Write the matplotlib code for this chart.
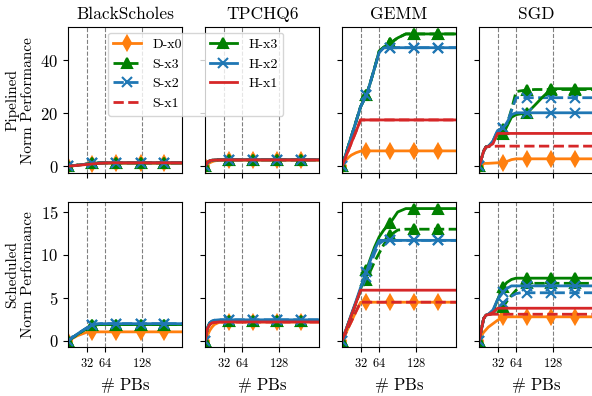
#!/usr/bin/env python3
# -*- coding: utf-8 -*-
import numpy as np
import matplotlib as mpl
mpl.use('Agg')
import matplotlib.pyplot as plt

plt.rcParams['font.family'] = 'serif'
plt.rcParams['font.serif'] = ['cmr10']
plt.rcParams['mathtext.fontset'] = 'cm'
plt.rcParams['axes.formatter.use_mathtext'] = True
plt.rcParams['axes.unicode_minus'] = False

# number of PBs sampled, markers drawn at a few of them
pbs = [0, 4, 8, 12, 16, 24, 32, 42, 48, 56, 64, 72, 83, 96, 110, 125, 166, 197]
mark_idx = [0, 7, 12, 15, 16]
pb_lines = [32, 64, 128]

benchmarks = ['BlackScholes', 'TPCHQ6', 'GEMM', 'SGD']
series = ['D-x0', 'S-x3', 'S-x2', 'S-x1', 'H-x3', 'H-x2', 'H-x1']
nan = np.nan

# pipelined (top row)
bs_pipe = {
    'D-x0': [0, .1, .2, .3, .4, .6, .8, 1.0, 1.05, 1.1, 1.1, 1.1, 1.1, 1.1, 1.1, 1.1, 1.1, 1.1],
    'S-x3': [0, .1, .2, .3, .4, .6, .8, 1.05, 1.15, 1.25, 1.3, 1.3, 1.3, 1.3, 1.3, 1.3, 1.3, 1.3],
    'S-x2': [0, .1, .2, .3, .4, .6, .8, 1.05, 1.15, 1.25, 1.3, 1.3, 1.3, 1.3, 1.3, 1.3, 1.3, 1.3],
    'S-x1': [0, .1, .2, .3, .4, .6, .8, 1.05, 1.15, 1.25, 1.3, 1.3, 1.3, 1.3, 1.3, 1.3, 1.3, 1.3],
    'H-x3': [0, .1, .2, .3, .4, .6, .8, 1.05, 1.15, 1.25, 1.3, 1.3, 1.3, 1.3, 1.3, 1.3, 1.3, 1.3],
    'H-x2': [0, .1, .2, .3, .4, .6, .8, 1.05, 1.15, 1.25, 1.3, 1.3, 1.3, 1.3, 1.3, 1.3, 1.3, 1.3],
    'H-x1': [0, .08, .16, .24, .32, .5, .65, .85, 1.0, 1.15, 1.25, 1.3, 1.3, 1.3, 1.3, 1.3, 1.3, 1.3],
}
tp_pipe = {
    'D-x0': [0, .7, 1.3, 1.7, 2.0, 2.25, 2.3, 2.3, 2.3, 2.3, 2.3, 2.3, 2.3, 2.3, 2.3, 2.3, 2.3, 2.3],
    'S-x3': [0, 1.4, 2.0, 2.25, 2.35, 2.45, 2.45, 2.45, 2.45, 2.45, 2.45, 2.45, 2.45, 2.45, 2.45, 2.45, 2.45, 2.45],
    'S-x2': [0, 1.4, 2.0, 2.25, 2.35, 2.45, 2.45, 2.45, 2.45, 2.45, 2.45, 2.45, 2.45, 2.45, 2.45, 2.45, 2.45, 2.45],
    'S-x1': [0, 1.5, 2.05, 2.25, 2.35, 2.4, 2.4, 2.4, 2.4, 2.4, 2.4, 2.4, 2.4, 2.4, 2.4, 2.4, 2.4, 2.4],
    'H-x3': [0, 1.4, 2.0, 2.25, 2.35, 2.45, 2.45, 2.45, 2.45, 2.45, 2.45, 2.45, 2.45, 2.45, 2.45, 2.45, 2.45, 2.45],
    'H-x2': [0, 1.4, 2.0, 2.25, 2.35, 2.45, 2.45, 2.45, 2.45, 2.45, 2.45, 2.45, 2.45, 2.45, 2.45, 2.45, 2.45, 2.45],
    'H-x1': [0, 1.5, 2.05, 2.25, 2.35, 2.4, 2.4, 2.4, 2.4, 2.4, 2.4, 2.4, 2.4, 2.4, 2.4, 2.4, 2.4, 2.4],
}
gm_pipe = {
    'D-x0': [0, 1.4, 2.6, 3.5, 4.2, 5.1, 5.7, 5.8, 5.8, 5.8, 5.8, 5.8, 5.8, 5.8, 5.8, 5.8, 5.8, 5.8],
    'S-x3': [0, 2.8, 5.6, 8.4, 11.2, 16.8, 22.5, 27.0, 31.0, 37.0, 43.5, 45.0, 46.5, 48.5, 50.0, 50.0, 50.0, 50.0],
    'S-x2': [0, 2.8, 5.6, 8.4, 11.2, 16.8, 22.5, 26.8, 31.0, 37.0, 43.0, 44.8, 44.8, 44.8, 44.8, 44.8, 44.8, 44.8],
    'S-x1': [0, 2.2, 4.4, 6.6, 8.8, 13.1, 17.5, 17.5, 17.5, 17.5, 17.5, 17.5, 17.5, 17.5, 17.5, 17.5, 17.5, 17.5],
    'H-x3': [0, 2.8, 5.6, 8.4, 11.2, 16.8, 22.5, 27.0, 31.0, 37.0, 43.5, 45.0, 46.5, 48.5, 50.0, 50.0, 50.0, 50.0],
    'H-x2': [0, 2.8, 5.6, 8.4, 11.2, 16.8, 22.5, 26.8, 31.0, 37.0, 43.0, 44.8, 44.8, 44.8, 44.8, 44.8, 44.8, 44.8],
    'H-x1': [0, 2.2, 4.4, 6.6, 8.8, 13.1, 17.5, 17.5, 17.5, 17.5, 17.5, 17.5, 17.5, 17.5, 17.5, 17.5, 17.5, 17.5],
}
sg_pipe = {
    'D-x0': [0, .6, 1.0, 1.1, 1.1, 1.2, 1.3, 1.4, 1.8, 2.5, 2.8, 2.8, 2.8, 2.8, 2.8, 2.8, 2.8, 2.8],
    'S-x3': [0, 2.8, 5.7, 7.3, 7.5, 9.3, 13.0, 14.0, 15.5, 21.5, 28.2, 28.5, 28.8, 29.0, 29.0, 29.0, 29.0, 29.0],
    'S-x2': [0, 2.8, 5.7, 7.3, 7.5, 9.5, 13.5, 14.5, 16.0, 21.0, 25.9, 25.9, 25.9, 25.9, 25.9, 25.9, 25.9, 25.9],
    'S-x1': [0, 2.8, 5.7, 7.3, 7.4, 7.5, 7.6, 7.6, 7.6, 7.6, 7.6, 7.6, 7.6, 7.6, 7.6, 7.6, 7.6, 7.6],
    'H-x3': [0, 2.8, 5.7, 7.3, 7.5, 9.3, 12.0, 12.3, 15.0, 18.5, 19.5, 19.8, 20.1, 23.0, 26.2, 29.3, 29.3, 29.3],
    'H-x2': [0, 2.8, 5.7, 7.3, 7.5, 9.5, 13.5, 14.5, 16.5, 19.5, 20.2, 20.2, 20.2, 20.2, 20.2, 20.2, 20.2, 20.2],
    'H-x1': [0, 2.8, 5.7, 7.3, 7.4, 8.5, 12.4, 12.4, 12.4, 12.4, 12.4, 12.4, 12.4, 12.4, 12.4, 12.4, 12.4, 12.4],
}

# scheduled (bottom row)
bs_sched = {
    'D-x0': [0, .15, .3, .45, .6, .8, 1.0, 1.05, 1.05, 1.05, 1.05, 1.05, 1.05, 1.05, 1.05, 1.05, 1.05, 1.05],
    'S-x3': [0, .2, .38, .56, .75, 1.1, 1.45, 1.8, 1.87, 1.9, 1.9, 1.9, 1.9, 1.9, 1.9, 1.9, 1.9, 1.9],
    'S-x2': [0, .2, .4, .6, .8, 1.15, 1.5, 1.85, 1.95, 2.0, 2.0, 2.0, 2.0, 2.0, 2.0, 2.0, 2.0, 2.0],
    'S-x1': [nan] * 18,
    'H-x3': [0, .2, .38, .56, .75, 1.1, 1.45, 1.8, 1.87, 1.9, 1.9, 1.9, 1.9, 1.9, 1.9, 1.9, 1.9, 1.9],
    'H-x2': [0, .2, .4, .6, .8, 1.15, 1.5, 1.85, 1.95, 2.0, 2.0, 2.0, 2.0, 2.0, 2.0, 2.0, 2.0, 2.0],
    'H-x1': [nan] * 18,
}
tp_sched = {
    'D-x0': [0, .6, 1.2, 1.6, 1.9, 2.15, 2.2, 2.2, 2.2, 2.2, 2.2, 2.2, 2.2, 2.2, 2.2, 2.2, 2.2, 2.2],
    'S-x3': [0, 1.5, 2.05, 2.25, 2.3, 2.35, 2.35, 2.35, 2.35, 2.35, 2.35, 2.35, 2.35, 2.35, 2.35, 2.35, 2.35, 2.35],
    'S-x2': [0, 1.5, 2.1, 2.3, 2.4, 2.45, 2.45, 2.45, 2.45, 2.45, 2.45, 2.45, 2.45, 2.45, 2.45, 2.45, 2.45, 2.45],
    'S-x1': [0, 1.4, 1.9, 2.1, 2.15, 2.2, 2.2, 2.2, 2.2, 2.2, 2.2, 2.2, 2.2, 2.2, 2.2, 2.2, 2.2, 2.2],
    'H-x3': [0, 1.5, 2.05, 2.25, 2.3, 2.35, 2.35, 2.35, 2.35, 2.35, 2.35, 2.35, 2.35, 2.35, 2.35, 2.35, 2.35, 2.35],
    'H-x2': [0, 1.5, 2.1, 2.3, 2.4, 2.45, 2.45, 2.45, 2.45, 2.45, 2.45, 2.45, 2.45, 2.45, 2.45, 2.45, 2.45, 2.45],
    'H-x1': [0, 1.4, 1.9, 2.1, 2.15, 2.2, 2.2, 2.2, 2.2, 2.2, 2.2, 2.2, 2.2, 2.2, 2.2, 2.2, 2.2, 2.2],
}
gm_sched = {
    'D-x0': [0, .56, 1.1, 1.7, 2.25, 3.4, 4.5, 4.5, 4.5, 4.5, 4.5, 4.5, 4.5, 4.5, 4.5, 4.5, 4.5, 4.5],
    'S-x3': [0, .74, 1.48, 2.2, 2.95, 4.4, 5.9, 7.1, 8.0, 9.2, 10.2, 11.2, 12.3, 12.9, 13.0, 13.0, 13.0, 13.0],
    'S-x2': [0, .74, 1.48, 2.2, 2.95, 4.4, 5.9, 7.4, 8.6, 10.2, 11.3, 11.7, 11.7, 11.7, 11.7, 11.7, 11.7, 11.7],
    'S-x1': [0, .56, 1.1, 1.7, 2.25, 3.4, 4.5, 4.5, 4.5, 4.5, 4.5, 4.5, 4.5, 4.5, 4.5, 4.5, 4.5, 4.5],
    'H-x3': [0, .75, 1.5, 2.25, 3.0, 4.5, 6.0, 8.2, 9.4, 10.9, 12.1, 12.9, 13.7, 15.0, 15.4, 15.4, 15.4, 15.4],
    'H-x2': [0, .77, 1.55, 2.3, 3.1, 4.6, 6.2, 8.0, 9.2, 10.6, 11.7, 11.7, 11.7, 11.7, 11.7, 11.7, 11.7, 11.7],
    'H-x1': [0, .74, 1.48, 2.2, 2.95, 4.4, 5.9, 5.9, 5.9, 5.9, 5.9, 5.9, 5.9, 5.9, 5.9, 5.9, 5.9, 5.9],
}
sg_sched = {
    'D-x0': [0, .6, 1.0, 1.3, 1.6, 2.0, 2.4, 2.8, 2.8, 2.8, 2.8, 2.8, 2.8, 2.8, 2.8, 2.8, 2.8, 2.8],
    'S-x3': [0, 1.3, 2.6, 3.0, 3.05, 3.2, 3.8, 4.0, 4.6, 5.3, 5.9, 6.4, 6.7, 6.7, 6.7, 6.7, 6.7, 6.7],
    'S-x2': [0, 1.3, 2.6, 3.0, 3.05, 3.3, 3.9, 4.4, 4.8, 5.2, 5.5, 5.6, 5.6, 5.6, 5.6, 5.6, 5.6, 5.6],
    'S-x1': [0, 1.3, 2.6, 3.0, 3.05, 3.1, 3.1, 3.1, 3.1, 3.1, 3.1, 3.1, 3.1, 3.1, 3.1, 3.1, 3.1, 3.1],
    'H-x3': [0, 1.3, 2.6, 3.0, 3.1, 3.4, 4.8, 6.3, 6.8, 7.15, 7.3, 7.3, 7.3, 7.3, 7.3, 7.3, 7.3, 7.3],
    'H-x2': [0, 1.3, 2.6, 3.0, 3.1, 3.6, 4.8, 5.7, 6.1, 6.4, 6.4, 6.4, 6.4, 6.4, 6.4, 6.4, 6.4, 6.4],
    'H-x1': [0, 1.3, 2.6, 3.0, 3.05, 3.3, 3.8, 3.8, 3.8, 3.8, 3.8, 3.8, 3.8, 3.8, 3.8, 3.8, 3.8, 3.8],
}

rows = [[bs_pipe, tp_pipe, gm_pipe, sg_pipe],
        [bs_sched, tp_sched, gm_sched, sg_sched]]
row_labels = ['Pipelined\nNorm Performance', 'Scheduled\nNorm Performance']
row_yticks = [[0, 20, 40], [0, 5, 10, 15]]

# colour, linestyle, marker for each series
styles = {
    'D-x0': ('tab:orange', '-', 'd'),
    'S-x3': ('green', '--', '^'),
    'S-x2': ('tab:blue', '--', 'x'),
    'S-x1': ('tab:red', '--', None),
    'H-x3': ('green', '-', '^'),
    'H-x2': ('tab:blue', '-', 'x'),
    'H-x1': ('tab:red', '-', None),
}

fig, axes = plt.subplots(2, 4, figsize=(5.92, 3.96), dpi=100, sharex=True, sharey='row')
fig.subplots_adjust(left=0.115, right=1.002, bottom=0.1225, top=0.931, wspace=0.2, hspace=0.2)

for r in range(2):
    for c in range(4):
        ax = axes[r][c]
        data = rows[r][c]
        for v in pb_lines:
            ax.axvline(v, color='gray', ls='--', lw=0.8, zorder=0)
        for name in series:
            color, ls, mk = styles[name]
            ax.plot(pbs, data[name], color=color, ls=ls, lw=2, marker=mk,
                    markevery=mark_idx, markersize=7, markeredgewidth=1.5, label=name)
        ax.set_xlim(0, 197)
        ax.set_xticks(pb_lines)
        ax.set_yticks(row_yticks[r])
        ax.tick_params(axis='y', labelsize=12)
        ax.tick_params(axis='x', labelsize=9)
        if r == 0:
            ax.set_title(benchmarks[c], fontsize=12.5)
        else:
            ax.set_xlabel(r'$\#$ PBs', fontsize=12)
        if c == 0:
            ax.set_ylabel(row_labels[r], fontsize=11)

# legend spills into the next panel, so lift the first axes above it
axes[0][0].set_zorder(5)
axes[0][0].legend(ncol=2, fontsize=10, loc='upper left', bbox_to_anchor=(0.348, 0.963),
                  borderaxespad=0)

plt.savefig('out.png', dpi=100)
